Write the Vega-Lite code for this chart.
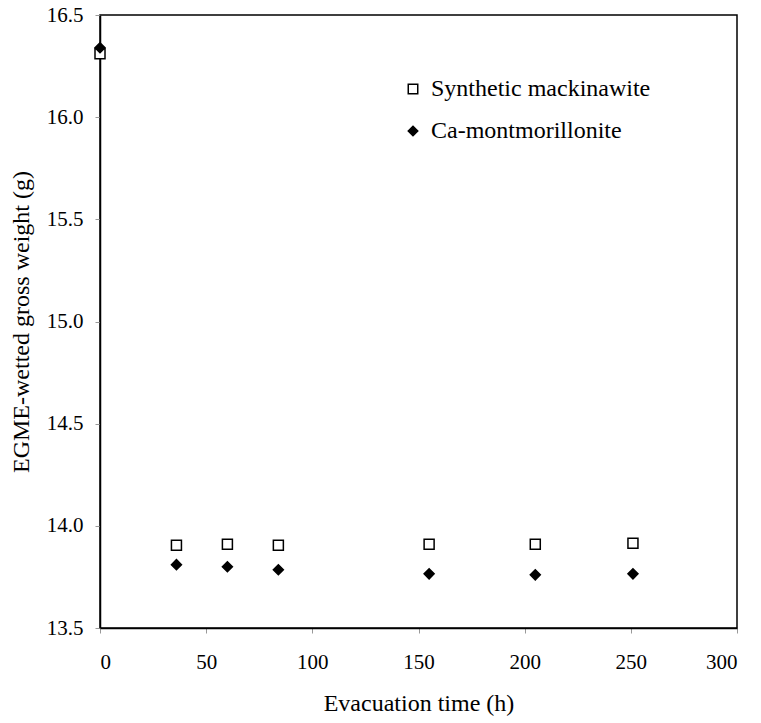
{
  "$schema": "https://vega.github.io/schema/vega-lite/v6.json",
  "width": 637,
  "height": 613,
  "autosize": {"type": "none"},
  "padding": {"left": 100, "top": 15, "right": 24, "bottom": 95},
  "background": "white",
  "config": {
    "font": "Liberation Serif",
    "view": {"stroke": "black", "strokeWidth": 1.5},
    "axis": {
      "grid": false,
      "domainColor": "black",
      "domainWidth": 1.5,
      "tickColor": "#999999",
      "tickSize": 5,
      "labelFont": "Liberation Serif",
      "labelFontSize": 21,
      "labelColor": "black",
      "titleFont": "Liberation Serif",
      "titleFontSize": 24,
      "titleFontWeight": "normal",
      "titleColor": "black"
    }
  },
  "data": {
    "values": [
      {"time": 0, "weight": 16.31, "sample": "Synthetic mackinawite"},
      {"time": 36, "weight": 13.905, "sample": "Synthetic mackinawite"},
      {"time": 60, "weight": 13.91, "sample": "Synthetic mackinawite"},
      {"time": 84, "weight": 13.905, "sample": "Synthetic mackinawite"},
      {"time": 155, "weight": 13.91, "sample": "Synthetic mackinawite"},
      {"time": 205, "weight": 13.91, "sample": "Synthetic mackinawite"},
      {"time": 251, "weight": 13.915, "sample": "Synthetic mackinawite"},
      {"time": 0, "weight": 16.34, "sample": "Ca-montmorillonite"},
      {"time": 36, "weight": 13.81, "sample": "Ca-montmorillonite"},
      {"time": 60, "weight": 13.8, "sample": "Ca-montmorillonite"},
      {"time": 84, "weight": 13.785, "sample": "Ca-montmorillonite"},
      {"time": 155, "weight": 13.765, "sample": "Ca-montmorillonite"},
      {"time": 205, "weight": 13.76, "sample": "Ca-montmorillonite"},
      {"time": 251, "weight": 13.765, "sample": "Ca-montmorillonite"}
    ]
  },
  "mark": {"type": "point", "filled": true, "strokeWidth": 1.5, "opacity": 1, "size": 100},
  "encoding": {
    "x": {
      "field": "time",
      "type": "quantitative",
      "title": "Evacuation time (h)",
      "scale": {"domain": [0, 300], "nice": false},
      "axis": {"values": [0, 50, 100, 150, 200, 250, 300], "labelPadding": 18, "titlePadding": 19}
    },
    "y": {
      "field": "weight",
      "type": "quantitative",
      "title": "EGME-wetted gross weight (g)",
      "scale": {"domain": [13.5, 16.5], "nice": false, "zero": false},
      "axis": {"values": [13.5, 14, 14.5, 15, 15.5, 16, 16.5], "format": ".1f", "labelPadding": 12, "titlePadding": 13}
    },
    "shape": {
      "field": "sample",
      "type": "nominal",
      "sort": ["Synthetic mackinawite", "Ca-montmorillonite"],
      "scale": {"domain": ["Synthetic mackinawite", "Ca-montmorillonite"], "range": ["square", "diamond"]},
      "legend": {
        "title": null,
        "orient": "none",
        "legendX": 301,
        "legendY": 62,
        "labelFontSize": 24,
        "labelFont": "Liberation Serif",
        "labelColor": "black",
        "labelLimit": 400,
        "labelOffset": 6,
        "rowPadding": 18,
        "symbolSize": 90,
        "symbolStrokeWidth": 1.5
      }
    },
    "fill": {
      "field": "sample",
      "type": "nominal",
      "sort": ["Synthetic mackinawite", "Ca-montmorillonite"],
      "scale": {"domain": ["Synthetic mackinawite", "Ca-montmorillonite"], "range": ["white", "black"]},
      "legend": {
        "title": null,
        "orient": "none",
        "legendX": 301,
        "legendY": 62,
        "labelFontSize": 24,
        "labelFont": "Liberation Serif",
        "labelColor": "black",
        "labelLimit": 400,
        "labelOffset": 6,
        "rowPadding": 18,
        "symbolSize": 90,
        "symbolStrokeWidth": 1.5
      }
    },
    "stroke": {
      "field": "sample",
      "type": "nominal",
      "sort": ["Synthetic mackinawite", "Ca-montmorillonite"],
      "scale": {"domain": ["Synthetic mackinawite", "Ca-montmorillonite"], "range": ["black", "black"]},
      "legend": {
        "title": null,
        "orient": "none",
        "legendX": 301,
        "legendY": 62,
        "labelFontSize": 24,
        "labelFont": "Liberation Serif",
        "labelColor": "black",
        "labelLimit": 400,
        "labelOffset": 6,
        "rowPadding": 18,
        "symbolSize": 90,
        "symbolStrokeWidth": 1.5
      }
    },
    "order": {"field": "sample", "sort": "descending"}
  }
}
